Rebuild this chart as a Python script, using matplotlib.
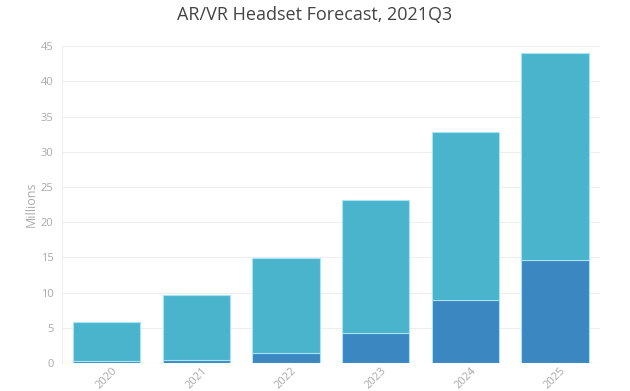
import matplotlib.pyplot as plt

years = ["2020", "2021", "2022", "2023", "2024", "2025"]
bottom_vals = [0.3, 0.4, 1.4, 4.3, 8.9, 14.6]
totals = [5.8, 9.7, 14.9, 23.2, 32.8, 44.0]
top_vals = [t - b for t, b in zip(totals, bottom_vals)]

plt.rcParams['font.family'] = ['Open Sans', 'DejaVu Sans']

fig = plt.figure(figsize=(6.3, 3.91), dpi=100)
ax = fig.add_axes([0.0984, 0.0716, 0.8536, 0.8104])

x = range(len(years))
ax.bar(x, bottom_vals, width=0.75, color="#3a87c1", edgecolor="#a6e4f7", linewidth=0.8, zorder=3)
ax.bar(x, top_vals, bottom=bottom_vals, width=0.75, color="#4ab4cc", edgecolor="#a6e4f7", linewidth=0.8, zorder=3)

ax.set_xlim(-0.5, len(years) - 0.5)
ax.set_ylim(0, 45)
ax.set_yticks(range(0, 46, 5))
ax.set_xticks(list(x))
ax.set_xticklabels(years, rotation=45, fontsize=8, color="#aaaaaa")
ax.tick_params(axis="y", labelsize=8, labelcolor="#aaaaaa", length=0, pad=6)
ax.tick_params(axis="x", length=0, pad=2)
ax.grid(axis="y", color="#eeeeee", linewidth=0.8, zorder=0)
for s in ["top", "right", "bottom"]:
    ax.spines[s].set_visible(False)
ax.spines["left"].set_color("#f0f0f0")
ax.axhline(0, color="#eeeeee", linewidth=0.8, zorder=1)

ax.set_ylabel("Millions", color="#aaaaaa", fontsize=9, labelpad=2)
fig.suptitle("AR/VR Headset Forecast, 2021Q3", fontsize=13, color="#444444", y=0.985)

fig.savefig("out.png", dpi=100, facecolor="white")
